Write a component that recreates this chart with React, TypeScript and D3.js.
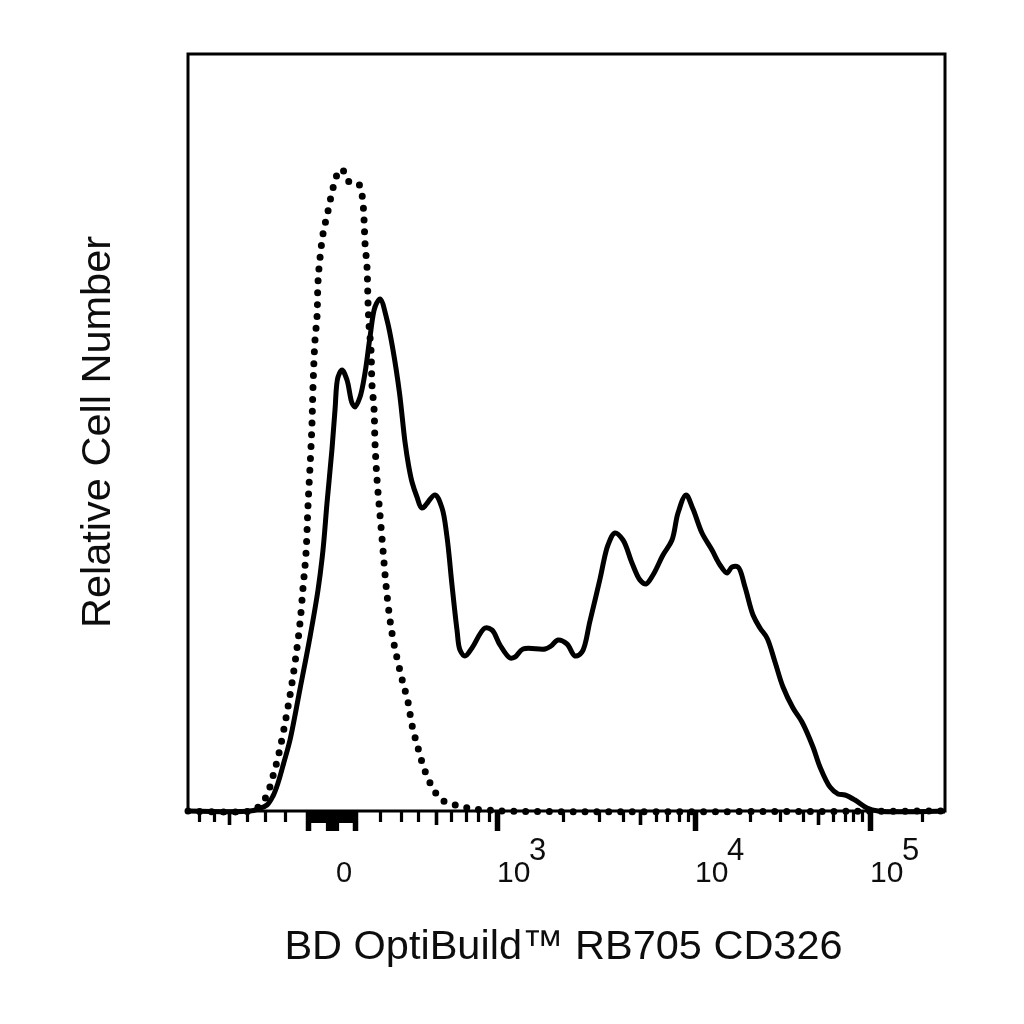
import React, { useEffect, useRef } from "react";
import * as d3 from "d3";

const solidChannels = [0, 62, 70, 79, 85, 90, 96, 102, 112, 122, 130, 135, 139, 144, 147, 150, 154, 159, 164, 167, 172, 177, 182, 187, 192, 199, 205, 211.5, 217, 220.5, 224, 229, 234, 247, 254, 259, 264, 269, 272, 277, 284, 297, 304, 312, 322, 327, 335, 357, 363, 370, 379, 387, 394, 402, 412, 420, 427, 435, 444, 452, 458, 465, 475, 484, 490, 498, 505, 514, 524, 532, 539, 544, 550, 557, 565, 572, 579, 587, 595, 605, 614, 625, 632, 642, 650, 657, 667, 679, 690, 757];
const solidCounts = [0, 0, 2, 6, 15, 28, 49, 71, 122, 174, 221, 261, 308, 362, 401, 434, 441, 431, 408, 404, 414, 438, 474, 504, 512, 491, 461, 418, 369, 346, 329, 314, 303, 316, 303, 274, 226, 181, 161, 155, 163, 183, 181, 166, 153, 154, 162, 162, 165, 171, 167, 155, 159, 190, 232, 266, 278, 271, 248, 231, 227, 236, 256, 271, 298, 316, 302, 278, 261, 246, 238, 244, 244, 224, 196, 183, 173, 149, 124, 103, 89, 64, 44, 24, 17, 16, 11, 3, 0, 0];

const isotypeChannels = [0, 62, 69, 78, 85, 91, 98, 104, 109, 112, 115, 118, 120, 123, 124, 125, 127, 129, 130, 132, 135, 140, 145, 149, 154, 160, 170, 174, 176, 177, 179, 180, 181, 183, 184, 186, 187, 189, 192, 195, 198, 202, 206, 214, 220, 224, 230, 237, 247, 254, 264, 275, 286, 299, 312, 757];
const isotypeCounts = [0, 0, 3, 14, 35, 58, 93, 128, 163, 188, 223, 258, 305, 364, 388, 424, 471, 494, 529, 553, 577, 600, 623, 636, 642, 630, 628, 616, 592, 568, 544, 509, 486, 461, 426, 403, 368, 332, 296, 261, 226, 191, 167, 132, 109, 86, 63, 40, 19, 11, 7, 4, 2, 1, 0, 0];

// tick locations on the biexponential axis, in display channels
const minorTicks = [11, 26, 59, 77, 97, 192, 213, 230, 263, 278, 290, 301, 375, 411, 435, 468, 479, 491, 500, 562, 592, 615, 645, 657, 665, 674, 734];
const midTicks = [41, 248, 452, 630];
const denseTicks = d3.range(120, 169, 2.5);
const zeroTicks = [139, 141.5, 144, 146.5, 149];
const blockEdgeTicks = [120, 167];
const decadeTicks = [309, 507, 682];
const decadeExponents = ["3", "4", "5"];

const zeroLabelChannel = 156;
const xLabel = "BD OptiBuild™ RB705 CD326";
const yLabel = "Relative Cell Number";

const margin = { top: 54, right: 79, bottom: 213, left: 188 };
const size = 1024;
const innerWidth = size - margin.left - margin.right;
const innerHeight = size - margin.top - margin.bottom;
const font = "'Liberation Sans', Arial, sans-serif";

export default function App() {
  const svgRef = useRef<SVGSVGElement>(null);

  useEffect(() => {
    const svg = d3.select(svgRef.current);
    svg.selectAll("*").remove();

    // the source is a slightly soft raster
    svg
      .append("filter")
      .attr("id", "soft")
      .append("feGaussianBlur")
      .attr("stdDeviation", 0.55);

    const g = svg
      .append("g")
      .attr("filter", "url(#soft)")
      .attr("transform", `translate(${margin.left},${margin.top})`);

    const x = d3.scaleLinear().domain([0, 757]).range([0, innerWidth]);
    const y = d3.scaleLinear().domain([0, 757]).range([innerHeight, 0]);

    const drawTicks = (values: number[], length: number, width: number) => {
      const axis = g
        .append("g")
        .attr("transform", `translate(0,${innerHeight})`)
        .call(
          d3
            .axisBottom(x)
            .tickValues(values)
            .tickSize(length)
            .tickFormat(() => "")
        );
      axis.select(".domain").remove();
      axis
        .selectAll("line")
        .attr("stroke", "#000")
        .attr("stroke-width", width);
    };

    drawTicks(minorTicks, 11, 3.2);
    drawTicks(midTicks, 14, 3.6);
    drawTicks(denseTicks, 12, 3.2);
    drawTicks(zeroTicks, 20, 3.2);
    drawTicks(blockEdgeTicks, 20, 5.5);
    drawTicks(decadeTicks, 20, 5.5);

    const line = d3
      .line<[number, number]>()
      .x((d) => x(d[0]))
      .y((d) => y(d[1]))
      .curve(d3.curveCatmullRom.alpha(0.5));

    const isotype = isotypeChannels.map((c, i) => [c, isotypeCounts[i]] as [number, number]);
    const solid = solidChannels.map((c, i) => [c, solidCounts[i]] as [number, number]);

    g.append("path")
      .attr("d", line(isotype))
      .attr("fill", "none")
      .attr("stroke", "#000")
      .attr("stroke-width", 7)
      .attr("stroke-linecap", "round")
      .attr("stroke-dasharray", "0 11.85");

    g.append("path")
      .attr("d", line(solid))
      .attr("fill", "none")
      .attr("stroke", "#000")
      .attr("stroke-width", 5)
      .attr("stroke-linejoin", "round");

    g.append("rect")
      .attr("width", innerWidth)
      .attr("height", innerHeight)
      .attr("fill", "none")
      .attr("stroke", "#000")
      .attr("stroke-width", 3);

    // tick labels
    const labels = g.append("g").attr("font-family", font).attr("fill", "#111");
    labels
      .append("text")
      .attr("x", x(zeroLabelChannel))
      .attr("y", innerHeight + 71)
      .attr("text-anchor", "middle")
      .attr("font-size", 29)
      .text("0");

    decadeTicks.forEach((tick, i) => {
      labels
        .append("text")
        .attr("x", x(tick))
        .attr("y", innerHeight + 71)
        .attr("font-size", 30)
        .text("10");
      labels
        .append("text")
        .attr("x", x(tick) + 32)
        .attr("y", innerHeight + 49)
        .attr("font-size", 31)
        .text(decadeExponents[i]);
    });

    g.append("text")
      .attr("x", 375.5)
      .attr("y", innerHeight + 148)
      .attr("text-anchor", "middle")
      .attr("font-family", font)
      .attr("font-size", 41.5)
      .attr("fill", "#111")
      .text(xLabel);

    g.append("text")
      .attr("transform", `translate(-78,378) rotate(-90)`)
      .attr("text-anchor", "middle")
      .attr("font-family", font)
      .attr("font-size", 41.5)
      .attr("fill", "#111")
      .text(yLabel);
  }, []);

  return (
    <svg
      ref={svgRef}
      width={size}
      height={size}
      style={{ position: "absolute", left: 0, top: 0, background: "#fff" }}
    />
  );
}
